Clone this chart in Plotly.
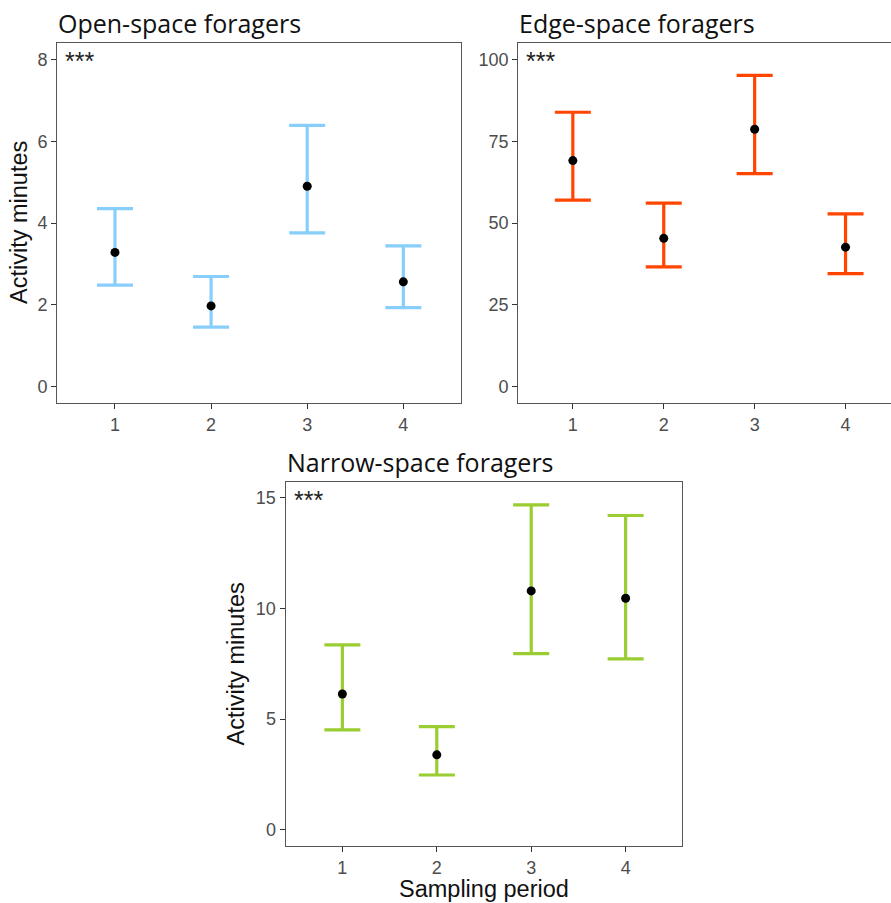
import plotly.graph_objects as go

W, H = 891, 903

periods = [1, 2, 3, 4]

open_mean = [3.28, 1.97, 4.90, 2.56]
open_low = [2.48, 1.45, 3.76, 1.93]
open_high = [4.35, 2.69, 6.39, 3.44]

edge_mean = [69.1, 45.3, 78.7, 42.6]
edge_low = [57.0, 36.6, 65.1, 34.5]
edge_high = [83.9, 56.1, 95.2, 52.8]

narrow_mean = [6.13, 3.38, 10.79, 10.46]
narrow_low = [4.51, 2.47, 7.96, 7.72]
narrow_high = [8.35, 4.66, 14.68, 14.20]

titles = ["Open-space foragers", "Edge-space foragers", "Narrow-space foragers"]
colors = ["#87CEFA", "#FF4500", "#9ACD32"]
y_ticks = [[0, 2, 4, 6, 8], [0, 25, 50, 75, 100], [0, 5, 10, 15]]
y_ranges = [[-0.4, 8.4], [-5, 105], [-0.74, 15.7]]
x_ranges = [[0.4, 4.6], [0.4, 4.5], [0.4, 4.6]]

# panel pixel boxes: left, right, top, bottom
boxes = [(57.3, 461.0, 43.3, 402.7), (518.3, 891.0, 43.3, 402.7), (285.7, 682.3, 482.3, 846.0)]

def px_x(v):
    return v / W

def px_y(v):
    return 1 - v / H

fig = go.Figure()
series = [(open_mean, open_low, open_high), (edge_mean, edge_low, edge_high),
          (narrow_mean, narrow_low, narrow_high)]

tick_font = dict(family="Liberation Sans, Arial, sans-serif", size=18, color="#4D4D4D")
line_col = "#555555"

for i, (m, lo, hi) in enumerate(series):
    xa = "x" if i == 0 else f"x{i+1}"
    ya = "y" if i == 0 else f"y{i+1}"
    fig.add_trace(go.Scatter(
        x=periods, y=m, mode="markers",
        marker=dict(color="black", size=9),
        error_y=dict(type="data", symmetric=False,
                     array=[h - v for h, v in zip(hi, m)],
                     arrayminus=[v - l for v, l in zip(m, lo)],
                     color=colors[i], thickness=3.2, width=18),
        xaxis=xa, yaxis=ya, showlegend=False, hoverinfo="skip"))
    l, r, t, b = boxes[i]
    xkey = "xaxis" if i == 0 else f"xaxis{i+1}"
    ykey = "yaxis" if i == 0 else f"yaxis{i+1}"
    fig.update_layout({
        xkey: dict(domain=[px_x(l), min(px_x(r), 1.0)], anchor=ya, range=x_ranges[i],
                   tickvals=periods, ticks="outside", ticklen=5, tickwidth=1.3,
                   tickcolor="#333333", showline=True, linecolor=line_col, linewidth=1.4,
                   mirror=True, showgrid=False, zeroline=False, tickfont=tick_font),
        ykey: dict(domain=[px_y(b), px_y(t)], anchor=xa, range=y_ranges[i],
                   tickvals=y_ticks[i], ticks="outside", ticklen=5, tickwidth=1.3,
                   tickcolor="#333333", showline=True, linecolor=line_col, linewidth=1.4,
                   mirror=(i != 1), showgrid=False, zeroline=False, tickfont=tick_font),
    })
    # panel title
    fig.add_annotation(text=titles[i], xref="paper", yref="paper",
                       x=px_x(l - 1), y=px_y(t - 20), xanchor="left", yanchor="middle",
                       showarrow=False,
                       font=dict(family="Open Sans, Noto Sans, sans-serif", size=25, color="#111111"))
    # significance stars
    fig.add_annotation(text="***", xref="paper", yref="paper",
                       x=px_x(l + 6), y=px_y(t + 2), xanchor="left", yanchor="top",
                       showarrow=False,
                       font=dict(family="Liberation Sans, Arial, sans-serif", size=25, color="#222222"))

title_font = dict(family="Liberation Sans, Arial, sans-serif", size=23.5, color="#111111")
fig.add_annotation(text="Activity minutes", xref="paper", yref="paper", x=px_x(19), y=px_y(223),
                   textangle=-90, showarrow=False, xanchor="center", yanchor="middle", font=title_font)
fig.add_annotation(text="Activity minutes", xref="paper", yref="paper", x=px_x(235), y=px_y(664.5),
                   textangle=-90, showarrow=False, xanchor="center", yanchor="middle", font=title_font)
fig.add_annotation(text="Sampling period", xref="paper", yref="paper", x=px_x(483.5), y=px_y(889),
                   showarrow=False, xanchor="center", yanchor="middle", font=title_font)

fig.update_layout(width=W, height=H, margin=dict(l=0, r=0, t=0, b=0),
                  paper_bgcolor="white", plot_bgcolor="white")

fig.write_html("out.html")
